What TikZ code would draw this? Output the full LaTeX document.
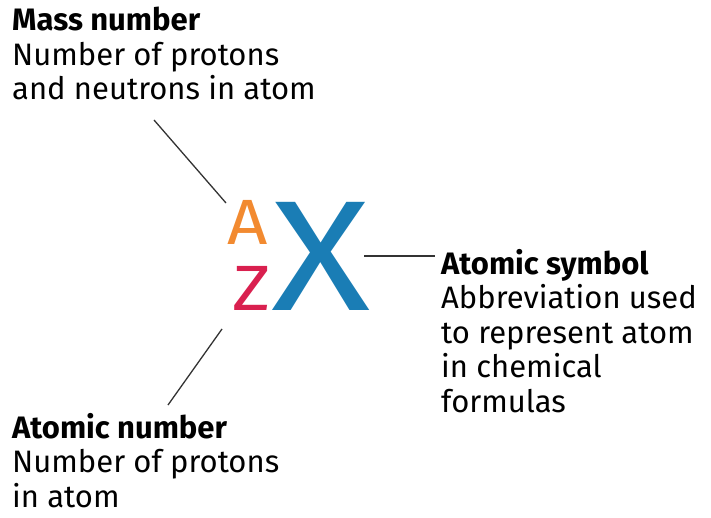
\documentclass[tikz,border=0pt]{standalone}
\usepackage{fontspec}
\setmainfont{Fira Sans}
\definecolor{aorange}{HTML}{F28A30}
\definecolor{zred}{HTML}{D9204F}
\definecolor{xblue}{HTML}{1A7DB5}
\definecolor{lgray}{HTML}{333333}
\begin{document}
\begin{tikzpicture}[x=1pt,y=-1pt,
  label/.style={anchor=base west,inner sep=0pt,align=left,font=\fontsize{31}{34.5}\selectfont},
  letter/.style={anchor=base west,inner sep=0pt},
  conn/.style={draw=lgray,line width=1.3pt}]
\useasboundingbox (0,0) rectangle (711,518);
\node[label] (mass) at (12,100) {\textbf{Mass number}\\Number of protons\\and neutrons in atom};
\node[label] (sym) at (441,412) {\textbf{Atomic symbol}\\Abbreviation used\\to represent atom\\in chemical\\formulas};
\node[label] (num) at (12,507) {\textbf{Atomic number}\\Number of protons\\in atom};
\node[letter,text=aorange,font=\fontsize{64}{64}\selectfont] (A) at (227,245) {\scalebox{1.1}[1]{A}};
\node[letter,text=zred,font=\fontsize{64}{64}\selectfont] (Z) at (232,310) {\scalebox{1.15}[1]{Z}};
\node[letter,text=xblue,font=\fontsize{157}{157}\selectfont] (X) at (271,310) {\scalebox{1.17}[1]{X}};
\coordinate (m1) at (154,120);
\coordinate (m2) at (226,203);
\coordinate (s1) at (364,256);
\coordinate (s2) at (435,256);
\coordinate (n1) at (222,329);
\coordinate (n2) at (168,405);
\draw[conn] (m1) -- (m2);
\draw[conn] (s1) -- (s2);
\draw[conn] (n1) -- (n2);
\end{tikzpicture}
\end{document}
